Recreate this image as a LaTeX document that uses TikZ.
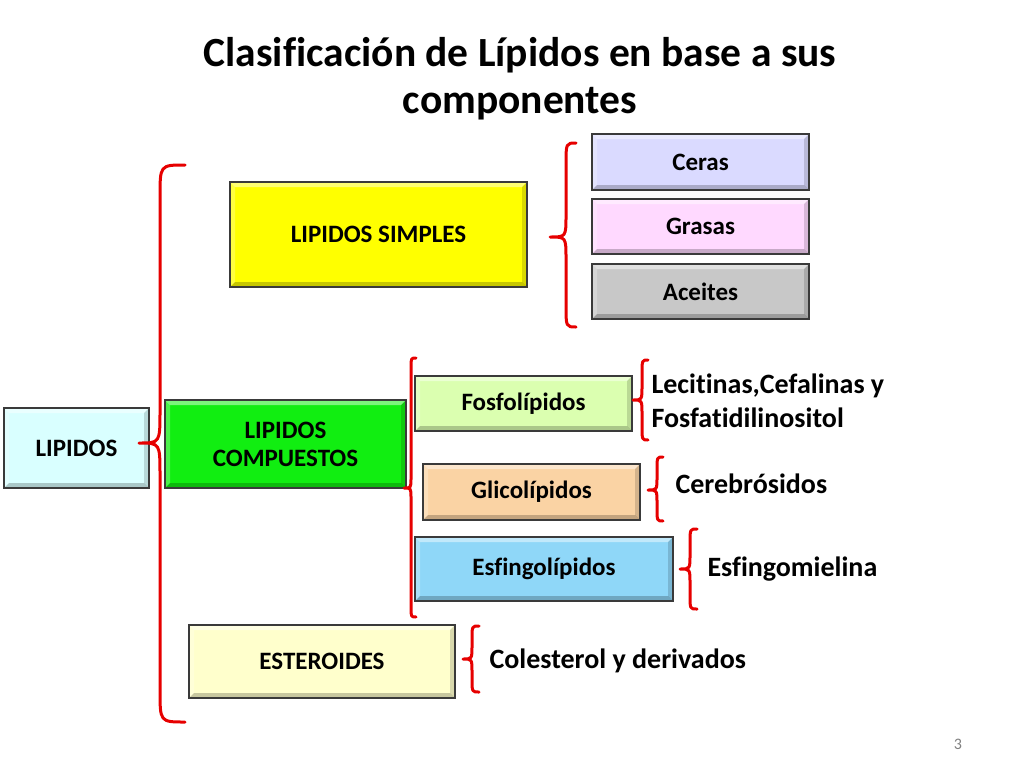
\documentclass[tikz,border=0pt]{standalone}
\usepackage{fontspec}
\setmainfont{Carlito}[Ligatures=NoCommon]
\begin{document}
\begin{tikzpicture}[x=1pt,y=-1pt,
  box/.style={draw=boxline, line width=1.3pt, align=center, inner sep=0pt,
    font=\fontsize{25}{28}\selectfont\bfseries,
    path picture={
      \fill[white,opacity=0.45] (path picture bounding box.north west) --
        (path picture bounding box.north east) --
        ([xshift=-5pt,yshift=-5pt]path picture bounding box.north east) --
        ([xshift=5pt,yshift=-5pt]path picture bounding box.north west) -- cycle;
      \fill[white,opacity=0.25] (path picture bounding box.north west) --
        ([xshift=5pt,yshift=-5pt]path picture bounding box.north west) --
        ([xshift=5pt,yshift=5pt]path picture bounding box.south west) --
        (path picture bounding box.south west) -- cycle;
      \fill[black,opacity=0.22] (path picture bounding box.south west) --
        (path picture bounding box.south east) --
        ([xshift=-5pt,yshift=5pt]path picture bounding box.south east) --
        ([xshift=5pt,yshift=5pt]path picture bounding box.south west) -- cycle;
      \fill[black,opacity=0.15] (path picture bounding box.north east) --
        ([xshift=-5pt,yshift=-5pt]path picture bounding box.north east) --
        ([xshift=-5pt,yshift=5pt]path picture bounding box.south east) --
        (path picture bounding box.south east) -- cycle;
    }},
  brc/.style={draw=bracered, line width=3pt, line cap=round, line join=round},
  side/.style={anchor=west, align=left, font=\fontsize{28}{34.5}\selectfont\bfseries}
]
\definecolor{boxline}{HTML}{3A3A3A}
\definecolor{bracered}{HTML}{E60000}
\definecolor{clip}{HTML}{D9FFFF}
\definecolor{csimp}{HTML}{FFFF00}
\definecolor{ccomp}{HTML}{11EE11}
\definecolor{cester}{HTML}{FFFFCC}
\definecolor{cceras}{HTML}{DADAFF}
\definecolor{cgrasas}{HTML}{FFD9FF}
\definecolor{caceites}{HTML}{C8C8C8}
\definecolor{cfosfo}{HTML}{DBFFB0}
\definecolor{cglico}{HTML}{FAD3A4}
\definecolor{cesfingo}{HTML}{8FD7F8}

\useasboundingbox (0,0) rectangle (1024,768);

% title
\node[align=center, font=\fontsize{41.5}{47}\selectfont\bfseries] (title) at (520,79)
  {Clasificación de Lípidos en base a sus\\componentes};

% boxes
\node[box, fill=clip, minimum width=145pt, minimum height=80pt] (lip) at (76.5,448) {LIPIDOS};
\node[box, fill=csimp, minimum width=297pt, minimum height=105pt] (simp) at (378.5,234.5) {LIPIDOS SIMPLES};
\node[box, fill=ccomp, minimum width=241pt, minimum height=88pt] (comp) at (285.5,444) {LIPIDOS\\COMPUESTOS};
\node[box, fill=cester, minimum width=266pt, minimum height=73pt] (ester) at (322,661.5) {ESTEROIDES};
\node[box, fill=cceras, minimum width=217pt, minimum height=56pt] (ceras) at (700.5,162) {Ceras};
\node[box, fill=cgrasas, minimum width=217pt, minimum height=55pt] (grasas) at (700.5,226.5) {Grasas};
\node[box, fill=caceites, minimum width=217pt, minimum height=55pt] (aceites) at (700.5,291.5) {Aceites};
\node[box, fill=cfosfo, minimum width=217pt, minimum height=55pt] (fosfo) at (523.5,403.5) {Fosfolípidos};
\node[box, fill=cglico, minimum width=217pt, minimum height=56pt] (glico) at (531.5,492) {Glicolípidos};
\node[box, fill=cesfingo, minimum width=258pt, minimum height=64pt] (esfingo) at (544,569) {Esfingolípidos};

% side texts
\node[side] (leci) at (648,401) {Lecitinas,Cefalinas y\\Fosfatidilinositol};
\node[side] (cere) at (672,484) {Cerebrósidos};
\node[side] (esfm) at (704,569) {Esfingomielina};
\node[side] (cole) at (486,661) {Colesterol y derivados};

% page number
\node[font=\fontsize{16}{18}\selectfont, text=gray] (pg) at (958,744) {3};

% braces: top end x, top y, bottom y, vertical x, tip x, tip y, curl d
\newcommand{\mybrace}[7]{%
  \draw[brc] (#1,#2) .. controls (#4,#2) .. (#4,#2+#7) -- (#4,#6-#7)
    .. controls (#4,#6) .. (#5,#6) .. controls (#4,#6) .. (#4,#6+#7)
    -- (#4,#3-#7) .. controls (#4,#3) .. (#1,#3);}
\mybrace{185}{165}{722}{160}{139}{443}{32}
\mybrace{576}{143}{327}{566}{550}{237}{22}
\mybrace{416}{358}{617}{411}{404}{488}{10}
\mybrace{648}{360}{440}{642}{633}{400}{14}
\mybrace{663}{457}{521}{657}{648}{490}{13}
\mybrace{697}{529}{609}{690}{680}{569}{14}
\mybrace{479}{626}{692}{472}{463}{659}{13}
\end{tikzpicture}
\end{document}
